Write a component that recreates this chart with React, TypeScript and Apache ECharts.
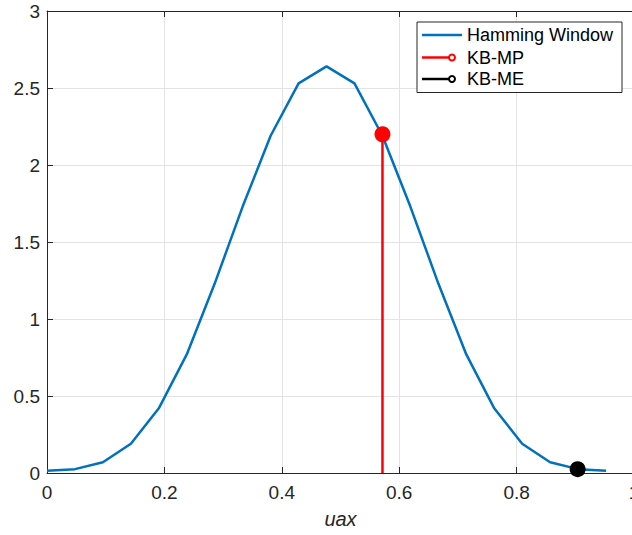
import React, { useEffect, useRef } from "react";
import * as echarts from "echarts";

const hammingX = [0, 0.0476, 0.0952, 0.1429, 0.1905, 0.2381, 0.2857, 0.3333, 0.381, 0.4286, 0.4762, 0.5238, 0.5714, 0.619, 0.6667, 0.7143, 0.7619, 0.8095, 0.8571, 0.9048, 0.9524];
const hammingY = [0.015, 0.025, 0.07, 0.19, 0.42, 0.77, 1.23, 1.73, 2.19, 2.53, 2.64, 2.53, 2.19, 1.73, 1.23, 0.77, 0.42, 0.19, 0.07, 0.025, 0.015];
const kbmpX = 0.5715;
const kbmpY = 2.2;
const kbmeX = 0.904;
const kbmeY = 0.025;
const legendNames = ["Hamming Window", "KB-MP", "KB-ME"];

const FONT = "'Liberation Sans', Arial, Helvetica, sans-serif";

export default function App() {
  const ref = useRef<HTMLDivElement>(null);
  useEffect(() => {
    if (!ref.current) return;
    const chart = echarts.init(ref.current, null, { renderer: "svg" });
    const stem = (x: number, y: number) => [
      { value: [x, 0], symbol: "none" },
      { value: [x, y] },
    ];
    const legendTop = 22;
    const legendLeft = 417;
    const rowY = [35, 57.5, 79];
    const colors = ["#0072BD", "#FF0000", "#000000"];
    const Z = 100;
    chart.setOption({
      animation: false,
      textStyle: { fontFamily: FONT },
      grid: {
        left: 47,
        top: 11,
        width: 587,
        height: 462,
        containLabel: false,
        outerBoundsMode: "none",
      },
      xAxis: [
        {
          type: "value",
          min: 0,
          max: 1,
          interval: 0.2,
          name: "uax",
          nameLocation: "middle",
          nameGap: 36,
          nameTextStyle: { fontSize: 20, fontStyle: "italic", color: "#262626", fontFamily: FONT },
          axisLine: { show: true, lineStyle: { color: "#262626", width: 1 } },
          axisTick: { show: true, inside: true, length: 6, lineStyle: { color: "#262626" } },
          axisLabel: { fontSize: 19, color: "#262626", margin: 10, fontFamily: FONT },
          splitLine: { show: true, lineStyle: { color: "#e3e3e3", width: 1 } },
        },
        {
          type: "value",
          position: "top",
          min: 0,
          max: 1,
          interval: 0.2,
          axisLine: { show: true, lineStyle: { color: "#262626", width: 1 } },
          axisTick: { show: true, inside: true, length: 6, lineStyle: { color: "#262626" } },
          axisLabel: { show: false },
          splitLine: { show: false },
        },
      ],
      yAxis: [
        {
          type: "value",
          min: 0,
          max: 3,
          interval: 0.5,
          axisLine: { show: true, lineStyle: { color: "#262626", width: 1 } },
          axisTick: { show: true, inside: true, length: 6, lineStyle: { color: "#262626" } },
          axisLabel: { fontSize: 19, color: "#262626", margin: 7, fontFamily: FONT },
          splitLine: { show: true, lineStyle: { color: "#e3e3e3", width: 1 } },
        },
      ],
      legend: { show: false },
      series: [
        {
          name: legendNames[0],
          type: "line",
          data: hammingX.map((x, i) => [x, hammingY[i]]),
          showSymbol: false,
          lineStyle: { color: colors[0], width: 2.5 },
          itemStyle: { color: colors[0] },
          z: 3,
        },
        {
          name: legendNames[1],
          type: "line",
          data: stem(kbmpX, kbmpY),
          symbol: "circle",
          symbolSize: 16,
          showAllSymbol: true,
          lineStyle: { color: colors[1], width: 2.5 },
          itemStyle: { color: colors[1], borderWidth: 0 },
          z: 4,
        },
        {
          name: legendNames[2],
          type: "line",
          data: stem(kbmeX, kbmeY),
          symbol: "circle",
          symbolSize: 16,
          showAllSymbol: true,
          lineStyle: { color: colors[2], width: 2.5 },
          itemStyle: { color: colors[2], borderWidth: 0 },
          z: 4,
        },
      ],
      graphic: [
        {
          type: "rect",
          z: Z,
          shape: { x: legendLeft, y: legendTop, width: 205, height: 70.5 },
          style: { fill: "#ffffff", stroke: "#262626", lineWidth: 1 },
        },
        ...legendNames.flatMap((name, i) => {
          const y = rowY[i];
          const els: any[] = [
            {
              type: "line",
              z: Z + 1,
              shape: { x1: 422, y1: y, x2: i === 0 ? 462 : 449, y2: y },
              style: { stroke: colors[i], lineWidth: 2.5 },
            },
            {
              type: "text",
              z: Z + 1,
              style: {
                x: 467,
                y: y,
                text: name,
                fontSize: 18,
                fontFamily: FONT,
                fill: "#000000",
                verticalAlign: "middle",
                align: "left",
              },
            },
          ];
          if (i > 0) {
            els.push({
              type: "circle",
              z: Z + 2,
              shape: { cx: 452, cy: y, r: 3 },
              style: { fill: "#ffffff", stroke: colors[i], lineWidth: 2 },
            });
          }
          return els;
        }),
      ],
    });
    return () => chart.dispose();
  }, []);
  return <div ref={ref} style={{ width: 632, height: 535, position: "absolute", left: 0, top: 0 }} />;
}
